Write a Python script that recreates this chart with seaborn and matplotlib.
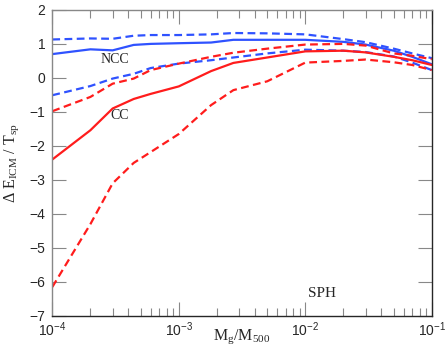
import numpy as np
import pandas as pd
import matplotlib
matplotlib.use("Agg")
import matplotlib.pyplot as plt
import matplotlib.ticker as mticker
import seaborn as sns

# gas mass fraction grid
mg = [1e-4, 2e-4, 3e-4, 4.4e-4, 6e-4, 1e-3, 1.8e-3, 2.7e-3, 5e-3, 1e-2, 2e-2, 3e-2, 5e-2, 7e-2, 1e-1]

ncc_mid = [0.70, 0.84, 0.81, 0.97, 1.00, 1.02, 1.04, 1.12, 1.12, 1.12, 1.06, 0.98, 0.80, 0.62, 0.40]
ncc_hi = [1.13, 1.16, 1.15, 1.24, 1.26, 1.26, 1.28, 1.32, 1.31, 1.28, 1.14, 1.05, 0.86, 0.72, 0.58]
ncc_lo = [-0.51, -0.24, -0.02, 0.12, 0.29, 0.42, 0.52, 0.60, 0.72, 0.83, 0.80, 0.76, 0.63, 0.45, 0.23]

cc_mid = [-2.40, -1.54, -0.90, -0.62, -0.47, -0.25, 0.20, 0.44, 0.60, 0.78, 0.80, 0.75, 0.62, 0.52, 0.38]
cc_hi = [-0.98, -0.56, -0.17, -0.02, 0.23, 0.42, 0.62, 0.74, 0.86, 0.98, 1.00, 0.95, 0.72, 0.65, 0.55]
cc_lo = [-6.15, -4.30, -3.10, -2.50, -2.18, -1.65, -0.80, -0.36, -0.10, 0.45, 0.50, 0.54, 0.46, 0.38, 0.23]

series = {
    "ncc_mid": ncc_mid, "ncc_hi": ncc_hi, "ncc_lo": ncc_lo,
    "cc_mid": cc_mid, "cc_hi": cc_hi, "cc_lo": cc_lo,
}

rows = []
for name, vals in series.items():
    for x, y in zip(mg, vals):
        rows.append({"mg": x, "dE": y, "run": name})
df = pd.DataFrame(rows)

sns.set_style("ticks")
plt.rcParams["font.family"] = ["Liberation Sans", "DejaVu Sans"]
plt.rcParams["xtick.direction"] = "in"
plt.rcParams["ytick.direction"] = "in"
plt.rcParams["mathtext.fontset"] = "custom"
plt.rcParams["mathtext.rm"] = "Liberation Serif"
plt.rcParams["mathtext.it"] = "Liberation Serif:italic"

blue = "#2f52ff"
red = "#ff1c1c"
palette = {"ncc_mid": blue, "ncc_hi": blue, "ncc_lo": blue,
           "cc_mid": red, "cc_hi": red, "cc_lo": red}
dashes = {"ncc_mid": "", "ncc_hi": (3.5, 2), "ncc_lo": (3.5, 2),
          "cc_mid": "", "cc_hi": (3.5, 2), "cc_lo": (3.5, 2)}

fig, ax = plt.subplots(figsize=(4.47, 3.53), dpi=100)
sns.lineplot(data=df, x="mg", y="dE", hue="run", style="run",
             palette=palette, dashes=dashes, linewidth=1.6,
             legend=False, ax=ax)

ax.set_xscale("log")
ax.set_xlim(1e-4, 1e-1)
ax.set_ylim(-7, 2)
ax.set_yticks(range(-7, 3))
ax.xaxis.set_major_locator(mticker.LogLocator(base=10, numticks=10))
ax.xaxis.set_minor_locator(mticker.LogLocator(base=10, subs=np.arange(2, 10), numticks=10))
ax.xaxis.set_minor_formatter(mticker.NullFormatter())
ax.tick_params(which="both", top=True, right=True, labelsize=10)
ax.tick_params(axis="x", pad=3)
ax.tick_params(axis="y", pad=5)
ax.tick_params(which="major", length=10, width=0.8, color="#888888")
ax.tick_params(which="minor", length=5.5, width=0.8, color="#888888")
for s in ax.spines.values():
    s.set_linewidth(1.0)
ax.spines["left"].set_color("#888888")
ax.spines["top"].set_color("#888888")

serif = ["Liberation Serif", "DejaVu Serif"]
ax.set_xlabel(r"M$_{\rm g}$/M$_{\rm 500}$", family=serif, fontsize=11.5, labelpad=-8)
ax.set_ylabel("Δ E$_{\\rm ICM}$ / T$_{\\rm sp}$", family=serif, fontsize=11.5, labelpad=6)

ax.text(2.4e-4, 0.45, "NCC", family=serif, fontsize=10)
ax.text(2.9e-4, -1.2, "CC", family=serif, fontsize=10)
ax.text(1.05e-2, -6.45, "SPH", family=serif, fontsize=11)

fig.subplots_adjust(left=0.117, right=0.966, top=0.972, bottom=0.105)
fig.savefig("out.png", dpi=100)
